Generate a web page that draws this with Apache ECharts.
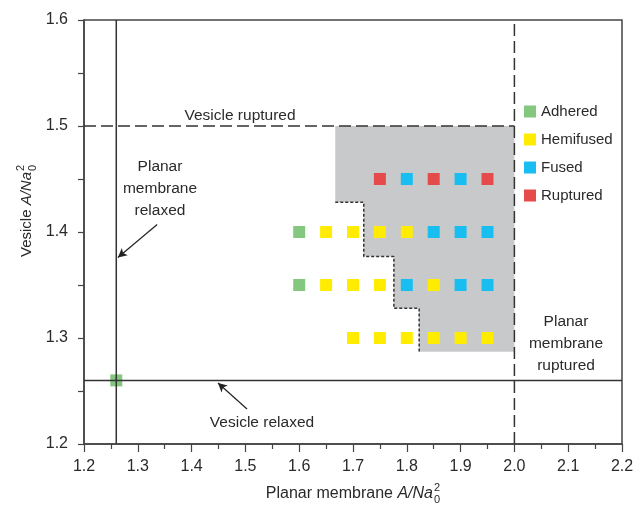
<!DOCTYPE html>
<html>
<head>
<meta charset="utf-8">
<script src="https://cdn.jsdelivr.net/npm/echarts@6/dist/echarts.min.js"></script>
<style>
  html, body { margin: 0; padding: 0; background: #fff; }
  #chart { width: 633px; height: 509px; }
</style>
</head>
<body>
<div id="chart"></div>
<script>
// 数据
const adhered = [[1.26, 1.26], [1.6, 1.4], [1.6, 1.35]]
const hemifused = [
    [1.65, 1.4], [1.7, 1.4], [1.75, 1.4], [1.8, 1.4],
    [1.65, 1.35], [1.7, 1.35], [1.75, 1.35], [1.85, 1.35],
    [1.7, 1.3], [1.75, 1.3], [1.8, 1.3], [1.85, 1.3], [1.9, 1.3], [1.95, 1.3]
]
const fused = [
    [1.8, 1.45], [1.9, 1.45],
    [1.85, 1.4], [1.9, 1.4], [1.95, 1.4],
    [1.8, 1.35], [1.9, 1.35], [1.95, 1.35]
]
const ruptured = [[1.75, 1.45], [1.85, 1.45], [1.95, 1.45]]

// 灰色区域 and its stepped boundary
const fusionRegion = [
    [1.667, 1.5], [2.0, 1.5], [2.0, 1.287], [1.823, 1.287], [1.823, 1.328],
    [1.776, 1.328], [1.776, 1.377], [1.72, 1.377], [1.72, 1.428], [1.667, 1.428]
]
const regionEdge = [
    [1.667, 1.428], [1.72, 1.428], [1.72, 1.377], [1.776, 1.377],
    [1.776, 1.328], [1.823, 1.328], [1.823, 1.287]
]

// reference lines
const planarRelaxed = [[1.26, 1.2], [1.26, 1.6]]
const vesicleRelaxed = [[1.2, 1.26], [2.2, 1.26]]
const planarRuptured = [[2.0, 1.2], [2.0, 1.6]]
const vesicleRuptured = [[1.2, 1.5], [2.0, 1.5]]
const arrowPlanar = [[1.336, 1.407], [1.263, 1.376]]
const arrowVesicle = [[1.503, 1.233], [1.449, 1.2575]]

const legendNames = ['Adhered', 'Hemifused', 'Fused', 'Ruptured']
const colors = ['#84c77f', '#ffec00', '#19bef0', '#e64b4b']

const FONT = "'Liberation Sans', Arial, sans-serif"
const TXT = '#2a2a2a'

const myChart = echarts.init(document.getElementById('chart'))

const lineSeries = (data, type, width) => ({
    type: 'line',
    data: data,
    symbol: 'none',
    silent: true,
    z: 5,
    lineStyle: { color: '#333', width: width || 1.5, type: type || 'solid' }
})

const scatterSeries = (name, data, color) => ({
    name: name,
    type: 'scatter',
    data: data,
    symbol: 'rect',
    symbolSize: 12,
    z: 3,
    itemStyle: { color: color, opacity: 1 }
})

const option = {
    animation: false,
    color: colors,
    textStyle: { fontFamily: FONT },
    grid: {
        left: 84,
        right: 11,
        top: 20,
        bottom: 65,
        outerBoundsMode: 'none',
        show: true,
        borderColor: '#444',
        borderWidth: 1.5
    },
    legend: {
        data: legendNames,
        orient: 'vertical',
        left: 524,
        top: 104,
        itemWidth: 12,
        itemHeight: 12,
        itemGap: 13,
        padding: 0,
        icon: 'rect',
        selectedMode: false,
        textStyle: { fontFamily: FONT, fontSize: 15, color: TXT }
    },
    xAxis: {
        type: 'value',
        min: 1.2,
        max: 2.2,
        interval: 0.1,
        axisLine: { lineStyle: { color: '#444', width: 1.5 } },
        axisTick: { length: 8, lineStyle: { color: '#444', width: 1.2 } },
        minorTick: { show: true, splitNumber: 2, length: 5, lineStyle: { color: '#444', width: 1.2 } },
        splitLine: { show: false },
        axisLabel: {
            margin: 15,
            fontFamily: FONT,
            fontSize: 16,
            color: TXT,
            formatter: (v) => v.toFixed(1)
        }
    },
    yAxis: {
        type: 'value',
        min: 1.2,
        max: 1.6,
        interval: 0.1,
        axisLine: { lineStyle: { color: '#444', width: 1.5 } },
        axisTick: { length: 6, lineStyle: { color: '#444', width: 1.2 } },
        minorTick: { show: true, splitNumber: 2, length: 6, lineStyle: { color: '#444', width: 1.2 } },
        splitLine: { show: false },
        axisLabel: {
            margin: 16,
            fontFamily: FONT,
            fontSize: 16,
            color: TXT,
            formatter: (v) => v.toFixed(1)
        }
    },
    series: [
        {
            type: 'custom',
            silent: true,
            z: 1,
            data: [0],
            renderItem: (params, api) => ({
                type: 'polygon',
                shape: { points: fusionRegion.map((p) => api.coord(p)) },
                style: { fill: '#c8c9cb' }
            })
        },
        lineSeries(regionEdge, [3, 2], 1.5),
        scatterSeries('Adhered', adhered, colors[0]),
        scatterSeries('Hemifused', hemifused, colors[1]),
        scatterSeries('Fused', fused, colors[2]),
        scatterSeries('Ruptured', ruptured, colors[3]),
        lineSeries(planarRelaxed, 'solid', 1.5),
        lineSeries(vesicleRelaxed, 'solid', 1.5),
        lineSeries(planarRuptured, [12, 5], 1.5),
        lineSeries(vesicleRuptured, [12, 5], 1.5),
        {
            // 箭头
            type: 'line',
            data: [],
            silent: true,
            markLine: {
                silent: true,
                animation: false,
                symbol: ['none', 'arrow'],
                symbolSize: [7, 9],
                label: { show: false },
                lineStyle: { color: '#222', width: 1.2, type: 'solid' },
                itemStyle: { color: '#222' },
                data: [
                    [{ coord: arrowPlanar[0] }, { coord: arrowPlanar[1] }],
                    [{ coord: arrowVesicle[0] }, { coord: arrowVesicle[1] }]
                ]
            }
        }
    ],
    graphic: [
        // 注释文字
        {
            type: 'text', x: 240, y: 116, z: 10,
            style: { text: 'Vesicle ruptured', font: '15.5px ' + FONT, fill: TXT, align: 'center', verticalAlign: 'middle' }
        },
        {
            type: 'text', x: 160, y: 189, z: 10,
            style: { text: 'Planar\nmembrane\nrelaxed', font: '15.5px ' + FONT, lineHeight: 22, fill: TXT, align: 'center', verticalAlign: 'middle' }
        },
        {
            type: 'text', x: 262, y: 423, z: 10,
            style: { text: 'Vesicle relaxed', font: '15.5px ' + FONT, fill: TXT, align: 'center', verticalAlign: 'middle' }
        },
        {
            type: 'text', x: 566, y: 344, z: 10,
            style: { text: 'Planar\nmembrane\nruptured', font: '15.5px ' + FONT, lineHeight: 22, fill: TXT, align: 'center', verticalAlign: 'middle' }
        },
        // x轴名称
        {
            type: 'group', x: 433, y: 494,
            children: [
                {
                    type: 'text', x: 0, y: 0,
                    style: {
                        text: 'Planar membrane {i|A/Na}',
                        font: '16px ' + FONT, fill: TXT, align: 'right', verticalAlign: 'middle',
                        rich: { i: { fontStyle: 'italic', fontSize: 16, fontFamily: FONT, fill: TXT } }
                    }
                },
                { type: 'text', x: 1, y: -6, style: { text: '2', font: '11px ' + FONT, fill: TXT, align: 'left', verticalAlign: 'middle' } },
                { type: 'text', x: 1, y: 6, style: { text: '0', font: '11px ' + FONT, fill: TXT, align: 'left', verticalAlign: 'middle' } }
            ]
        },
        // y轴名称
        {
            type: 'group', x: 27, y: 172, rotation: Math.PI / 2,
            children: [
                {
                    type: 'text', x: 0, y: 0,
                    style: {
                        text: 'Vesicle {i|A/Na}',
                        font: '15px ' + FONT, fill: TXT, align: 'right', verticalAlign: 'middle',
                        rich: { i: { fontStyle: 'italic', fontSize: 15, fontFamily: FONT, fill: TXT } }
                    }
                },
                { type: 'text', x: 1, y: -6, style: { text: '2', font: '11px ' + FONT, fill: TXT, align: 'left', verticalAlign: 'middle' } },
                { type: 'text', x: 1, y: 6, style: { text: '0', font: '11px ' + FONT, fill: TXT, align: 'left', verticalAlign: 'middle' } }
            ]
        }
    ]
}

myChart.setOption(option)
</script>
</body>
</html>
